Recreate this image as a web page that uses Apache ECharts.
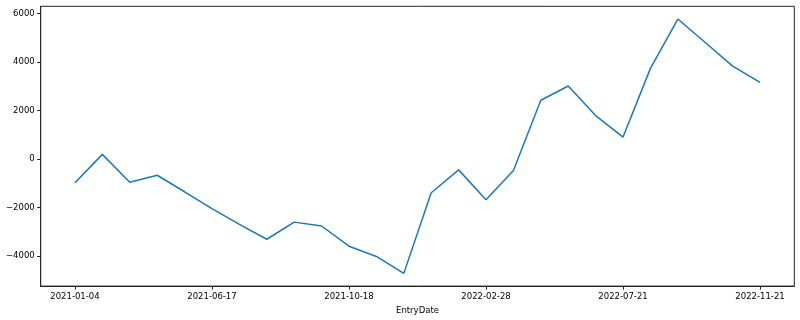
<!DOCTYPE html>
<html>
<head>
<meta charset="utf-8">
<script src="https://cdn.jsdelivr.net/npm/echarts@6/dist/echarts.min.js"></script>
<style>html,body{margin:0;padding:0;background:#fff}#c{width:800px;height:320px}</style>
</head>
<body>
<div id="c"></div>
<script>
// Category positions (index) and their readable date labels ('' = not labelled in the picture)
const categories = [
  '2021-01-04','','','','',
  '2021-06-17','','','','',
  '2021-10-18','','','','',
  '2022-02-28','','','','',
  '2022-07-21','','','','',
  '2022-11-21'
];
const values = [
  -986, 189, -962, -674, -1356,
  -2055, -2700, -3317, -2610, -2770,
  -3605, -4028, -4727, -1397, -452,
  -1685, -481, 2425, 3013, 1792,
  904, 3740, 5779, 4809, 3835,
  3165
];
const xTickIndices = [0, 5, 10, 15, 20, 25];
const yTicks = [-4000, -2000, 0, 2000, 4000, 6000];

const font = 'DejaVu Sans';
const chart = echarts.init(document.getElementById('c'), null, {renderer: 'canvas'});
const n = values.length;
const pad = (n - 1) * 0.05;
const vmin = Math.min(...values), vmax = Math.max(...values);
const vpad = (vmax - vmin) * 0.05;

chart.setOption({
  animation: false,
  backgroundColor: '#fff',
  grid: {
    left: 40.7, right: 5.7, top: 6.3, bottom: 32.7,
    show: true, borderColor: '#222', borderWidth: 1, backgroundColor: 'transparent'
  },
  xAxis: {
    type: 'value',
    min: -pad, max: (n - 1) + pad,
    name: 'EntryDate',
    nameLocation: 'middle',
    nameGap: 17,
    nameTextStyle: {fontFamily: font, fontSize: 8.5, color: '#000'},
    splitLine: {show: false},
    axisLine: {show: true, onZero: false, lineStyle: {color: '#222', width: 1}},
    axisTick: {show: true, length: 3.5, lineStyle: {color: '#222'}, customValues: xTickIndices},
    axisLabel: {
      customValues: xTickIndices,
      fontFamily: font, fontSize: 8.5, color: '#000', margin: 6,
      formatter: v => categories[Math.round(v)] || ''
    }
  },
  yAxis: {
    type: 'value',
    min: vmin - vpad, max: vmax + vpad,
    splitLine: {show: false},
    axisLine: {show: true, onZero: false, lineStyle: {color: '#222', width: 1}},
    axisTick: {show: true, length: 3.5, lineStyle: {color: '#222'}, customValues: yTicks},
    axisLabel: {
      customValues: yTicks,
      fontFamily: font, fontSize: 8.5, color: '#000', margin: 6,
      formatter: v => (v < 0 ? '\u2212' + Math.abs(v) : String(v))
    }
  },
  series: [{
    type: 'line',
    data: values.map((v, i) => [i, v]),
    showSymbol: false,
    lineStyle: {color: '#1f77b4', width: 1.5},
    itemStyle: {color: '#1f77b4'}
  }]
});
</script>
</body>
</html>
